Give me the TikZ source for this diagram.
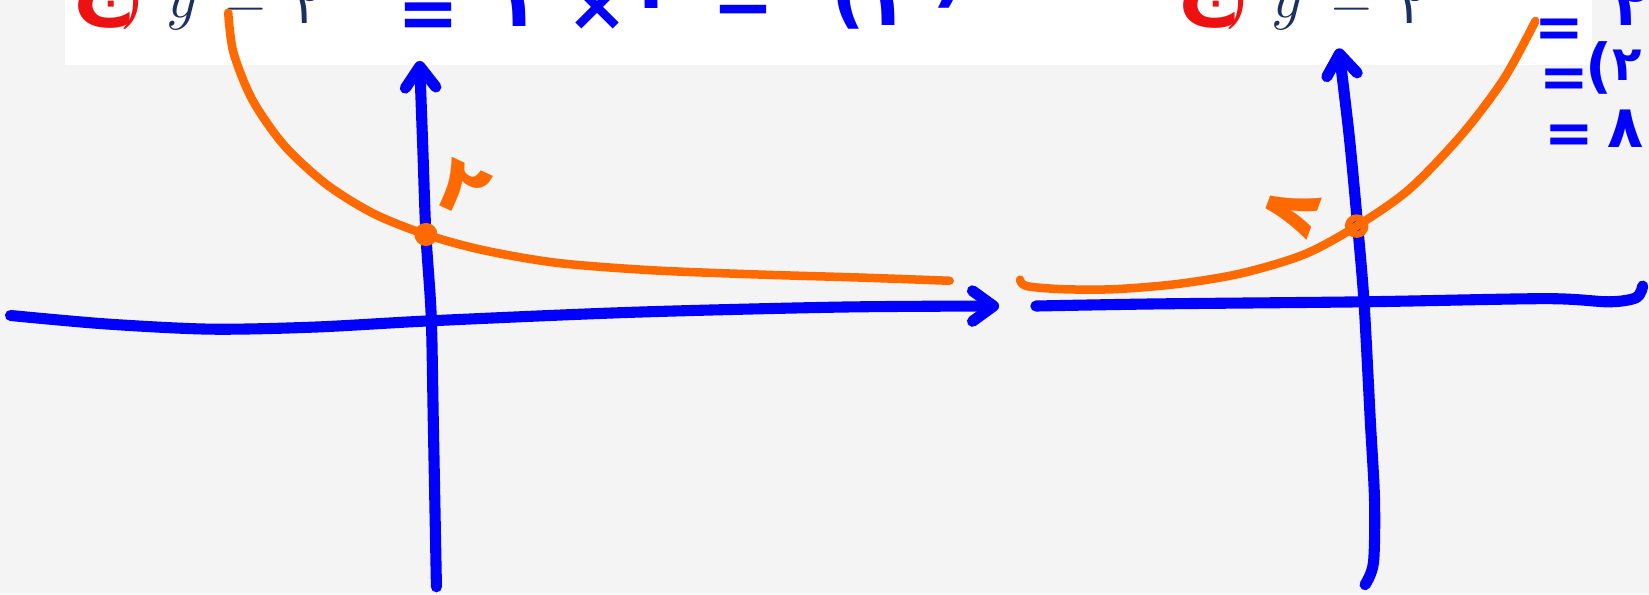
\documentclass[tikz,border=0pt]{standalone}
\usepackage{fontspec}
\newfontfamily\arabicfont[Script=Arabic]{DejaVu Sans}
\newfontfamily\handfont{DejaVu Sans}
\TeXXeTstate=1
\usetikzlibrary{arrows.meta}
\definecolor{penblue}{HTML}{0000FF}
\definecolor{penorange}{HTML}{FF6A00}
\definecolor{inkred}{HTML}{EE1111}
\definecolor{inknavy}{HTML}{1B2F60}
\definecolor{paper}{HTML}{F4F4F4}

\begin{document}
\begin{tikzpicture}[
        x=0.01cm, y=-0.01cm,
        axis/.style={draw=penblue, line width=3pt, line cap=round, line join=round},
        graph/.style={draw=penorange, line width=2.3pt, line cap=round, line join=round},
        tip/.style={-{Straight Barb[length=2mm, width=2.9mm, line cap=round, line join=round]}},
        hand/.style={text=penblue, inner sep=0pt, anchor=base, font=\arabicfont\bfseries\fontsize{20}{24}\selectfont},
        handsm/.style={hand, font=\arabicfont\bfseries\fontsize{16}{19}\selectfont},
        printed/.style={inner sep=0pt, anchor=base, font=\fontsize{15}{18}\selectfont},
        marker/.style={text=penorange, inner sep=0pt, font=\arabicfont\bfseries\fontsize{21}{24}\selectfont}
    ]
    % --- PAGE: grey paper, white strip of the printed line ---
    \useasboundingbox (0,0) rectangle (1568,565);
    \clip (0,0) rectangle (1568,565);
    \fill[paper] (0,0) rectangle (1568,565);
    \fill[white] (62,0) rectangle (1514,62);

    % --- PRINTED LINES (cut off at the top) ---
    \foreach \dx/\nm in {0/L, 1051/R} {
        \node[printed, text=inkred, font=\fontsize{22}{24}\selectfont] (item\nm) at (96+\dx,8) {\arabicfont\bfseries\beginR ج\endR};
        \node[printed, text=inkred] (brack\nm) at (126+\dx,15) {\bfseries )};
        \node[printed, text=inknavy, font=\fontsize{19}{22}\selectfont] (yvar\nm) at (174+\dx,17) {$y$};
        \node[printed, text=inknavy] (eq\nm) at (234+\dx,17) {$=$};
        \node[printed, text=inknavy] (two\nm) at (293+\dx,22) {\arabicfont ٢};
    }

    % --- HANDWRITTEN WORKING, TOP LEFT ---
    \foreach \i/\gx/\gy/\gl in {1/407/37/=, 2/500/25/٢, 3/568/29/×, 4/626/8/٢,
                                5/707/23/=, 7/851/24/٢} {
        \node[hand] (work\i) at (\gx,\gy) {\gl};
    }
    \node[hand, font=\handfont\bfseries\fontsize{20}{24}\selectfont] (work6) at (807,19) {(};
    \node[hand, font=\handfont\bfseries\fontsize{20}{24}\selectfont] (work8) at (903,-1) {)};

    % --- HANDWRITTEN WORKING, TOP RIGHT ---
    \node[handsm] (rowa) at (1483,45) {=};
    \node[handsm] (rowb) at (1551,24) {٢};
    \node[handsm] (rowc) at (1487,93) {=};
    \node[handsm, font=\handfont\bfseries\fontsize{16}{19}\selectfont] (rowd) at (1520,82) {(};
    \node[handsm, font=\arabicfont\bfseries\fontsize{13}{15}\selectfont] (rowe) at (1547,77) {٢};
    \node[handsm] (rowf) at (1492,146) {=};
    \node[handsm] (rowg) at (1546,140) {٨};

    % --- LEFT GRAPH ---
    \coordinate (pL) at (405,223);
    \draw[axis, tip] plot[smooth] coordinates {(10,300) (100,308) (200,313) (300,311) (411,305) (600,297) (800,292) (950,291)};
    \draw[axis, tip] plot[smooth] coordinates {(415,558) (412,400) (410,300) (405,223) (402,140) (399,58)};
    \draw[graph] plot[smooth] coordinates {(217,12) (222,50) (240,95) (270,138) (310,175) (355,203) (405,223) (460,238) (530,250) (620,257) (720,261) (820,264) (903,267)};
    \fill[penorange] (pL) circle (1.1mm);
    \node[marker, rotate=-25] (labL) at (440,180) {٢};

    % --- RIGHT GRAPH ---
    \coordinate (pR) at (1290,215);
    \draw[axis] plot[smooth] coordinates {(985,291) (1100,289) (1297,287) (1470,284) (1530,287) (1556,283) (1562,272)};
    \draw[axis, tip] plot[smooth] coordinates {(1298,556) (1306,535) (1307,475) (1303,400) (1297,287) (1291,215) (1283,130) (1273,46)};
    \draw[graph] plot[smooth] coordinates {(970,266) (976,272) (1010,275) (1060,275) (1120,270) (1180,260) (1240,242) (1290,215) (1340,180) (1390,128) (1430,75) (1460,20)};
    \draw[penorange, line width=1.8pt] (pR) circle (0.8mm);
    \node[marker, rotate=70] (labR) at (1228,200) {٨};

\end{tikzpicture}
\end{document}
